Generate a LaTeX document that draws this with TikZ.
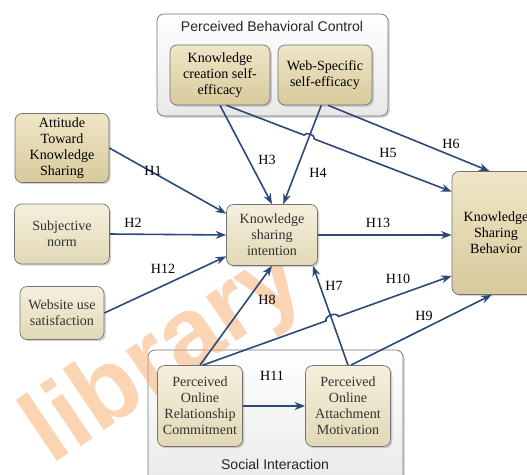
\documentclass[tikz,border=0pt]{standalone}
\usepackage{fontspec}
\setmainfont{Liberation Serif}
\setsansfont{Liberation Sans}
\usetikzlibrary{calc,shadows,arrows.meta}

\definecolor{boxtop}{HTML}{F5F0DE}
\definecolor{boxbot}{HTML}{E2D8B6}
\definecolor{darktop}{HTML}{EFE6C7}
\definecolor{darkbot}{HTML}{D8CA9C}
\definecolor{hypblue}{HTML}{2A4878}
\definecolor{wmark}{HTML}{F5A968}

\begin{document}
\begin{tikzpicture}[x=0.02cm,y=-0.02cm,
	box/.style={draw=black!55, rounded corners=4pt, top color=boxtop, bottom color=boxbot,
		drop shadow={shadow xshift=1pt, shadow yshift=-1pt, opacity=.35},
		align=center, inner sep=1pt, font=\fontsize{8}{9.1}\selectfont, text=black!80},
	darkbox/.style={box, top color=darktop, bottom color=darkbot, text=black},
	group/.style={draw=black!55, rounded corners=4pt, top color=white, bottom color=black!9,
		drop shadow={shadow xshift=1pt, shadow yshift=-1pt, opacity=.3}},
	grouptitle/.style={font=\sffamily\fontsize{8}{9}\selectfont, text=black!85},
	hyp/.style={draw=hypblue, line width=.9pt, -{Stealth[length=6pt,width=4.5pt]}},
	lab/.style={font=\fontsize{8}{9}\selectfont, text=black}]

	\useasboundingbox (0,0) rectangle (527,475);
	\clip (0,0) rectangle (527,475);

	\draw[group] (157,14) rectangle (388,116);
	\node[grouptitle] (pbctitle) at (272,26) {Perceived Behavioral Control};
	\draw[group] (148,350) rectangle (403,495);
	\node[grouptitle] (sititle) at (275,464) {Social Interaction};

	\node[rotate=34, text=wmark, opacity=.5, font=\sffamily\bfseries\fontsize{58}{58}\selectfont] (wm) at (166,357) {library};

	\node[darkbox, minimum width=2cm, minimum height=1.2cm] (kcse) at (220,75) {Knowledge\\creation self-\\efficacy};
	\node[darkbox, minimum width=1.88cm, minimum height=1.2cm] (wsse) at (325,75) {Web-Specific\\self-efficacy};
	\node[darkbox, minimum width=1.88cm, minimum height=1.38cm] (atks) at (62,148) {Attitude\\Toward\\Knowledge\\Sharing};
	\node[box, minimum width=1.9cm, minimum height=1.2cm] (sn) at (62,234) {Subjective\\norm};
	\node[box, minimum width=1.68cm, minimum height=1.06cm] (wus) at (62,313) {Website use\\satisfaction};
	\node[box, minimum width=1.82cm, minimum height=1.22cm] (ksi) at (272,235) {Knowledge\\sharing\\intention};
	\node[darkbox, minimum width=1.76cm, minimum height=2.46cm] (ksb) at (496,233) {Knowledge\\Sharing\\Behavior};
	\node[box, minimum width=1.7cm, minimum height=1.62cm] (porc) at (200,406) {Perceived\\Online\\Relationship\\Commitment};
	\node[box, minimum width=1.7cm, minimum height=1.62cm] (poam) at (348,406) {Perceived\\Online\\Attachment\\Motivation};

	\draw[hyp] (atks.east) -- (ksi.155);
	\draw[hyp] (sn.east) -- (ksi.west);
	\draw[hyp] (wus.east) -- (ksi.205);
	\draw[hyp] (kcse.south) -- (ksi.north);
	\draw[hyp] (wsse.-97) -- (ksi.70);
	\draw[hyp] (kcse.-78) -- ($(kcse.-78)!0.345!(ksb.137)$) to[bend left=90] ($(kcse.-78)!0.39!(ksb.137)$) -- (ksb.137);
	\draw[hyp] (wsse.-84) -- (ksb.96);
	\draw[hyp] (ksi.east) -- (ksi.east -| ksb.west);
	\draw[hyp] (poam.north) -- (ksi.-37);
	\draw[hyp] (porc.north) -- (ksi.south);
	\draw[hyp] (porc.86) -- ($(porc.86)!0.495!(ksb.224)$) to[bend left=90] ($(porc.86)!0.545!(ksb.224)$) -- (ksb.224);
	\draw[hyp] (poam.86) -- (ksb.266);
	\draw[hyp] (porc.east) -- (poam.west);

	\node[lab] (h1) at (153,171) {H1};
	\node[lab] (h2) at (133,223) {H2};
	\node[lab] (h3) at (267,160) {H3};
	\node[lab] (h4) at (318,173) {H4};
	\node[lab] (h5) at (388,153) {H5};
	\node[lab] (h6) at (451,144) {H6};
	\node[lab] (h7) at (334,286) {H7};
	\node[lab] (h8) at (267,300) {H8};
	\node[lab] (h9) at (424,316) {H9};
	\node[lab] (h10) at (398,279) {H10};
	\node[lab] (h11) at (272,376) {H11};
	\node[lab] (h12) at (163,269) {H12};
	\node[lab] (h13) at (378,223) {H13};
\end{tikzpicture}
\end{document}
